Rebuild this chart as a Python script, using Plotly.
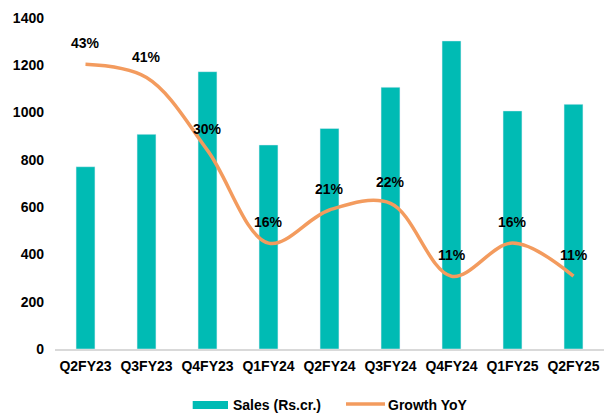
import plotly.graph_objects as go

quarters = ["Q2FY23", "Q3FY23", "Q4FY23", "Q1FY24", "Q2FY24", "Q3FY24", "Q4FY24", "Q1FY25", "Q2FY25"]
sales = [771, 908, 1173, 863, 933, 1107, 1303, 1007, 1035]
growth = [0.43, 0.41, 0.30, 0.16, 0.21, 0.22, 0.11, 0.16, 0.11]
y_ticks = [0, 200, 400, 600, 800, 1000, 1200, 1400]

TEAL = "#00BBB4"
ORANGE = "#F39B5E"
FONT = "Liberation Sans, Arial, sans-serif"

fig = go.Figure()
fig.add_trace(go.Bar(x=quarters, y=sales, name="Sales (Rs.cr.)", marker_color=TEAL,
                     width=0.31, showlegend=False))
fig.add_trace(go.Scatter(x=quarters, y=growth, name="Growth YoY", mode="lines", yaxis="y2",
                         line=dict(color=ORANGE, width=3.5, shape="spline", smoothing=1.0),
                         showlegend=False))

for q, g in zip(quarters, growth):
    fig.add_annotation(x=q, y=g, yref="y2", text=f"{round(g*100)}%", showarrow=False,
                       yshift=21, font=dict(family=FONT, size=14, color="black", weight="bold"))

# manual legend
fig.add_shape(type="rect", xref="paper", yref="paper", x0=(192.7-55)/549, x1=(228-55)/549,
              y0=-(401-349)/331, y1=-(409-349)/331, fillcolor=TEAL, line_width=0)
fig.add_annotation(xref="paper", yref="paper", x=(231-55)/549, y=-(405-349)/331, xanchor="left",
                   yanchor="middle", text="Sales (Rs.cr.)", showarrow=False,
                   font=dict(family=FONT, size=14, color="black", weight="bold"))
fig.add_shape(type="line", xref="paper", yref="paper", x0=(346-55)/549, x1=(385-55)/549,
              y0=-(404-349)/331, y1=-(404-349)/331, line=dict(color=ORANGE, width=3.5))
fig.add_annotation(xref="paper", yref="paper", x=(386-55)/549, y=-(405-349)/331, xanchor="left",
                   yanchor="middle", text="Growth YoY", showarrow=False,
                   font=dict(family=FONT, size=14, color="black", weight="bold"))

fig.update_layout(
    width=604, height=414,
    margin=dict(l=55, r=0, t=18, b=65),
    paper_bgcolor="white", plot_bgcolor="white",
    font=dict(family=FONT, size=14, color="black"),
    bargap=0.69,
    xaxis=dict(showgrid=False, showline=True, linecolor="#D9D9D9", linewidth=1.5,
               tickfont=dict(family=FONT, size=14, color="black", weight="bold"), ticks="",
               ticklabelstandoff=3),
    yaxis=dict(range=[0, 1400], tickvals=y_ticks, showgrid=False, zeroline=False,
               tickfont=dict(family=FONT, size=14, color="black", weight="bold"),
               ticklabelstandoff=10),
    yaxis2=dict(range=[0, 0.5], overlaying="y", side="right", visible=False),
)

fig.write_html("out.html", config={"displayModeBar": False},
               post_script="document.body.style.margin='0';document.body.style.overflow='hidden';")
